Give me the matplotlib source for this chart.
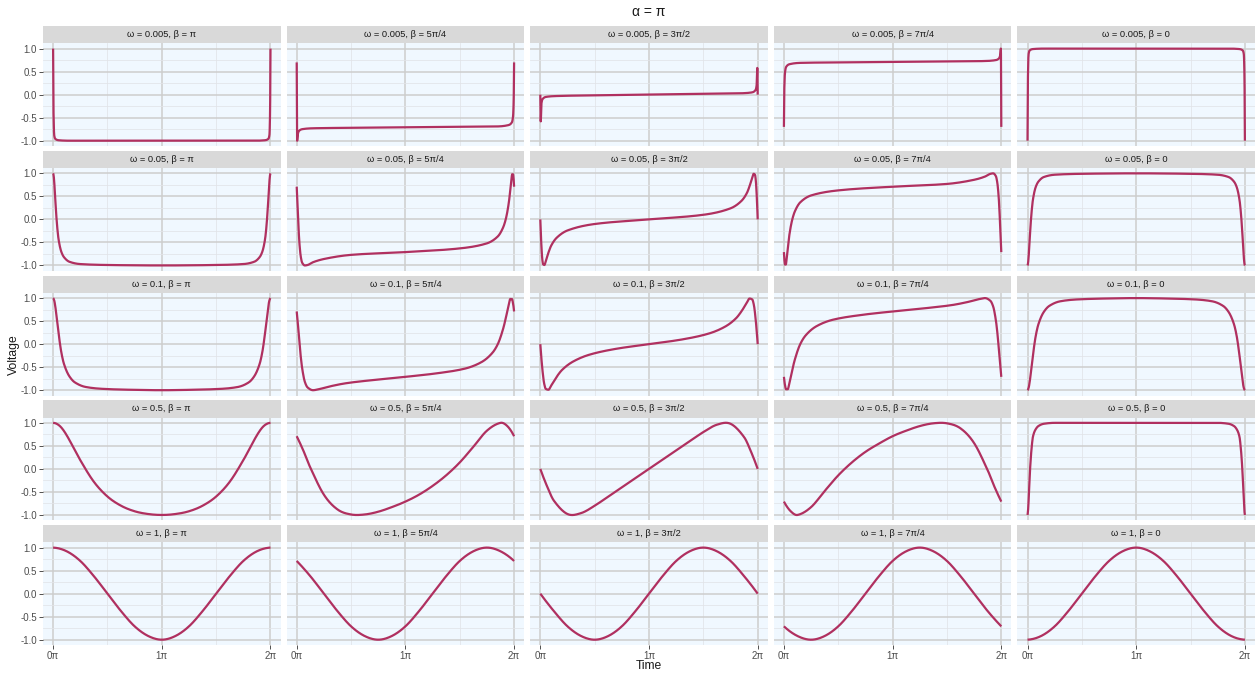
import numpy as np
import matplotlib
matplotlib.use("Agg")
import matplotlib.pyplot as plt

plt.rcParams["font.family"] = ["Liberation Sans", "DejaVu Sans"]

# ---------------------------------------------------------------------------
# Facet labels
# ---------------------------------------------------------------------------
omega_labels = ["0.005", "0.05", "0.1", "0.5", "1"]
beta_labels = ["π", "5π/4", "3π/2", "7π/4", "0"]

# ---------------------------------------------------------------------------
# Time samples (in multiples of π) and voltages for every facet
# ---------------------------------------------------------------------------
t_w0005 = [0, 0.004, 0.01, 0.02, 0.05, 0.15, 0.5, 1.0, 1.5, 1.85, 1.95, 1.98, 1.99, 1.996, 2.0]
v_w0005_pi = [1.00, -0.40, -0.88, -0.96, -0.99, -1.00, -1.00, -1.00, -1.00, -1.00, -0.99, -0.96, -0.88, -0.40, 1.00]
v_w0005_5pi4 = [0.70, -1.00, -0.86, -0.79, -0.75, -0.73, -0.72, -0.71, -0.70, -0.69, -0.66, -0.60, -0.48, -0.15, 0.70]
v_w0005_3pi2 = [0.00, -0.58, -0.20, -0.10, -0.05, -0.03, -0.015, 0.00, 0.015, 0.03, 0.05, 0.10, 0.20, 0.58, 0.00]
v_w0005_7pi4 = [-0.70, 0.15, 0.48, 0.60, 0.66, 0.69, 0.70, 0.71, 0.72, 0.73, 0.75, 0.79, 0.86, 1.00, -0.70]
v_w0005_0 = [-1.00, 0.40, 0.88, 0.96, 0.99, 1.00, 1.00, 1.00, 1.00, 1.00, 0.99, 0.96, 0.88, 0.40, -1.00]

t_w005 = [0, 0.005, 0.01, 0.0175, 0.025, 0.0375, 0.05, 0.075, 0.1, 0.15, 0.25, 0.5, 1.0,
          1.5, 1.75, 1.85, 1.9, 1.925, 1.95, 1.9625, 1.975, 1.9825, 1.99, 1.995, 2.0]
v_w005_pi = [1.00, 0.95, 0.82, 0.54, 0.24, -0.16, -0.43, -0.70, -0.82, -0.92, -0.97, -0.99, -1.00,
             -0.99, -0.97, -0.92, -0.82, -0.70, -0.43, -0.16, 0.24, 0.54, 0.82, 0.95, 1.00]
v_w005_5pi4 = [0.71, 0.46, 0.18, -0.22, -0.52, -0.81, -0.94, -1.00, -0.99, -0.93, -0.86, -0.77, -0.71,
               -0.63, -0.52, -0.37, -0.17, 0.02, 0.34, 0.58, 0.86, 0.98, 0.98, 0.89, 0.71]
v_w005_3pi2 = [0.00, -0.31, -0.57, -0.85, -0.97, -0.99, -0.91, -0.72, -0.57, -0.40, -0.24, -0.10, 0.00,
               0.10, 0.24, 0.40, 0.57, 0.72, 0.91, 0.99, 0.97, 0.85, 0.57, 0.31, 0.00]
v_w005_7pi4 = [-0.71, -0.89, -0.98, -0.98, -0.86, -0.58, -0.34, -0.02, 0.17, 0.37, 0.52, 0.63, 0.71,
               0.77, 0.86, 0.93, 0.99, 1.00, 0.94, 0.81, 0.52, 0.22, -0.18, -0.46, -0.71]
v_w005_0 = [-1.00, -0.95, -0.82, -0.54, -0.24, 0.16, 0.43, 0.70, 0.82, 0.92, 0.97, 0.99, 1.00,
            0.99, 0.97, 0.92, 0.82, 0.70, 0.43, 0.16, -0.24, -0.54, -0.82, -0.95, -1.00]

t_w01 = [0, 0.01, 0.02, 0.035, 0.05, 0.075, 0.1, 0.15, 0.2, 0.3, 0.45, 0.7, 1.0,
         1.3, 1.55, 1.7, 1.8, 1.85, 1.9, 1.925, 1.95, 1.965, 1.98, 1.99, 2.0]
v_w01_pi = [1.00, 0.95, 0.82, 0.54, 0.24, -0.17, -0.43, -0.70, -0.83, -0.93, -0.97, -0.99, -1.00,
            -0.99, -0.97, -0.93, -0.83, -0.70, -0.43, -0.17, 0.24, 0.54, 0.82, 0.95, 1.00]
v_w01_5pi4 = [0.71, 0.46, 0.18, -0.22, -0.52, -0.82, -0.94, -1.00, -0.98, -0.92, -0.85, -0.78, -0.71,
              -0.63, -0.53, -0.39, -0.19, 0.00, 0.34, 0.58, 0.85, 0.98, 0.98, 0.89, 0.71]
v_w01_3pi2 = [0.00, -0.31, -0.57, -0.85, -0.97, -0.99, -0.90, -0.71, -0.56, -0.38, -0.23, -0.10, 0.00,
              0.10, 0.23, 0.38, 0.56, 0.71, 0.90, 0.99, 0.97, 0.85, 0.57, 0.31, 0.00]
v_w01_7pi4 = [-0.71, -0.89, -0.98, -0.98, -0.85, -0.58, -0.34, 0.00, 0.19, 0.39, 0.53, 0.63, 0.71,
              0.78, 0.85, 0.92, 0.98, 1.00, 0.94, 0.82, 0.52, 0.22, -0.18, -0.46, -0.71]
v_w01_0 = [-1.00, -0.95, -0.82, -0.54, -0.24, 0.17, 0.43, 0.70, 0.83, 0.93, 0.97, 0.99, 1.00,
           0.99, 0.97, 0.93, 0.83, 0.70, 0.43, 0.17, -0.24, -0.54, -0.82, -0.95, -1.00]

t_w05 = [0, 0.0625, 0.125, 0.25, 0.375, 0.5, 0.625, 0.75, 0.875, 1.0,
         1.125, 1.25, 1.375, 1.5, 1.625, 1.75, 1.875, 1.9375, 2.0]
v_w05_pi = [1.00, 0.93, 0.73, 0.19, -0.28, -0.60, -0.80, -0.92, -0.98, -1.00,
            -0.98, -0.92, -0.80, -0.60, -0.28, 0.19, 0.73, 0.93, 1.00]
v_w05_5pi4 = [0.71, 0.39, 0.03, -0.56, -0.88, -0.99, -0.99, -0.93, -0.83, -0.71,
              -0.56, -0.37, -0.14, 0.14, 0.48, 0.83, 1.00, 0.93, 0.71]
v_w05_3pi2 = [0.00, -0.38, -0.69, -0.98, -0.96, -0.80, -0.60, -0.40, -0.20, 0.00,
              0.20, 0.40, 0.60, 0.80, 0.96, 0.98, 0.69, 0.38, 0.00]
v_w05_7pi4 = [-0.71, -0.92, -1.00, -0.83, -0.48, -0.14, 0.14, 0.37, 0.55, 0.71,
              0.83, 0.93, 0.99, 0.99, 0.88, 0.56, -0.03, -0.39, -0.71]
t_w05_0 = t_w005
v_w05_0 = [-1.00, -0.90, -0.70, -0.30, 0.05, 0.45, 0.70, 0.86, 0.93, 0.98, 1.00, 1.00, 1.00,
           1.00, 1.00, 0.98, 0.93, 0.86, 0.70, 0.45, 0.05, -0.30, -0.70, -0.90, -1.00]

t_w1 = [0, 0.125, 0.25, 0.375, 0.5, 0.625, 0.75, 0.875, 1.0,
        1.125, 1.25, 1.375, 1.5, 1.625, 1.75, 1.875, 2.0]
v_w1_pi = [1.00, 0.92, 0.71, 0.38, 0.00, -0.38, -0.71, -0.92, -1.00,
           -0.92, -0.71, -0.38, 0.00, 0.38, 0.71, 0.92, 1.00]
v_w1_5pi4 = [0.71, 0.38, 0.00, -0.38, -0.71, -0.92, -1.00, -0.92, -0.71,
             -0.38, 0.00, 0.38, 0.71, 0.92, 1.00, 0.92, 0.71]
v_w1_3pi2 = [0.00, -0.38, -0.71, -0.92, -1.00, -0.92, -0.71, -0.38, 0.00,
             0.38, 0.71, 0.92, 1.00, 0.92, 0.71, 0.38, 0.00]
v_w1_7pi4 = [-0.71, -0.92, -1.00, -0.92, -0.71, -0.38, 0.00, 0.38, 0.71,
             0.92, 1.00, 0.92, 0.71, 0.38, 0.00, -0.38, -0.71]
v_w1_0 = [-1.00, -0.92, -0.71, -0.38, 0.00, 0.38, 0.71, 0.92, 1.00,
          0.92, 0.71, 0.38, 0.00, -0.38, -0.71, -0.92, -1.00]

series = [
    [(t_w0005, v_w0005_pi), (t_w0005, v_w0005_5pi4), (t_w0005, v_w0005_3pi2), (t_w0005, v_w0005_7pi4), (t_w0005, v_w0005_0)],
    [(t_w005, v_w005_pi), (t_w005, v_w005_5pi4), (t_w005, v_w005_3pi2), (t_w005, v_w005_7pi4), (t_w005, v_w005_0)],
    [(t_w01, v_w01_pi), (t_w01, v_w01_5pi4), (t_w01, v_w01_3pi2), (t_w01, v_w01_7pi4), (t_w01, v_w01_0)],
    [(t_w05, v_w05_pi), (t_w05, v_w05_5pi4), (t_w05, v_w05_3pi2), (t_w05, v_w05_7pi4), (t_w05_0, v_w05_0)],
    [(t_w1, v_w1_pi), (t_w1, v_w1_5pi4), (t_w1, v_w1_3pi2), (t_w1, v_w1_7pi4), (t_w1, v_w1_0)],
]
# rows of slowly varying traces get an ordinary cardinal spline,
# steep ones a shape-preserving one
gentle = [[False] * 5, [False] * 5, [False] * 5, [True, True, True, True, False], [True] * 5]


def hermite_curve(x, y, preserve_shape=True, per_seg=24):
    """Cubic Hermite trace through the samples."""
    x = np.asarray(x, float)
    y = np.asarray(y, float)
    h = np.diff(x)
    d = np.diff(y) / h
    m = np.zeros_like(y)
    for k in range(1, len(x) - 1):
        if preserve_shape:
            if d[k - 1] * d[k] > 0:
                w1 = 2 * h[k] + h[k - 1]
                w2 = h[k] + 2 * h[k - 1]
                m[k] = (w1 + w2) / (w1 / d[k - 1] + w2 / d[k])
        else:
            m[k] = (y[k + 1] - y[k - 1]) / (x[k + 1] - x[k - 1])

    def edge(h0, h1, d0, d1):
        s = ((2 * h0 + h1) * d0 - h0 * d1) / (h0 + h1)
        if not preserve_shape:
            return s
        if np.sign(s) != np.sign(d0):
            return 0.0
        if np.sign(d0) != np.sign(d1) and abs(s) > abs(3 * d0):
            return 3 * d0
        return s

    m[0] = edge(h[0], h[1], d[0], d[1])
    m[-1] = edge(h[-1], h[-2], d[-1], d[-2])
    xs, ys = [], []
    for k in range(len(h)):
        s = np.linspace(0, 1, per_seg, endpoint=(k == len(h) - 1))
        h00 = 2 * s**3 - 3 * s**2 + 1
        h10 = s**3 - 2 * s**2 + s
        h01 = -2 * s**3 + 3 * s**2
        h11 = s**3 - s**2
        xs.append(x[k] + s * h[k])
        ys.append(h00 * y[k] + h10 * h[k] * m[k] + h01 * y[k + 1] + h11 * h[k] * m[k + 1])
    return np.concatenate(xs), np.concatenate(ys)


# ---------------------------------------------------------------------------
# Figure and facet grid geometry (pixels)
# ---------------------------------------------------------------------------
W, H, DPI = 1257, 675, 100
fig = plt.figure(figsize=(W / DPI, H / DPI), dpi=DPI)
fig.patch.set_facecolor("white")

left0, col_w, gap_x = 43.0, 237.6, 6.0
top0, strip_h, panel_h, row_pitch = 26.0, 17.3, 102.7, 124.75

line_color = "#B03060"
tick_txt = "#4d4d4d"

for r in range(5):
    for c in range(5):
        x0 = left0 + c * (col_w + gap_x)
        st = top0 + r * row_pitch
        pt = st + strip_h

        sax = fig.add_axes([x0 / W, 1 - (st + strip_h) / H, col_w / W, strip_h / H])
        sax.set_facecolor("#d9d9d9")
        sax.set_xticks([])
        sax.set_yticks([])
        for sp in sax.spines.values():
            sp.set_visible(False)
        sax.text(0.5, 0.5, f"ω = {omega_labels[r]}, β = {beta_labels[c]}",
                 ha="center", va="center", fontsize=6.7, color="#1a1a1a",
                 transform=sax.transAxes)

        ax = fig.add_axes([x0 / W, 1 - (pt + panel_h) / H, col_w / W, panel_h / H])
        ax.set_facecolor("#f0f8ff")
        for sp in ax.spines.values():
            sp.set_visible(False)
        ax.set_xlim(-0.093, 2.093)
        ax.set_ylim(-1.115, 1.115)
        ax.set_xticks([0, 1, 2])
        ax.set_xticks([0.5, 1.5], minor=True)
        ax.set_yticks([-1, -0.5, 0, 0.5, 1])
        ax.set_yticks([-0.75, -0.25, 0.25, 0.75], minor=True)
        ax.grid(which="major", color="#cdcdcd", linewidth=1.1)
        ax.grid(which="minor", color="#e1e4e8", linewidth=0.55)
        ax.set_axisbelow(True)
        ax.tick_params(which="minor", length=0)

        if c == 0:
            ax.set_yticklabels(["-1.0", "-0.5", "0.0", "0.5", "1.0"])
            ax.tick_params(axis="y", length=2.75, width=0.6, color="#333333",
                           labelcolor=tick_txt, labelsize=7.0, pad=1.5)
        else:
            ax.tick_params(axis="y", length=0, labelleft=False)
        if r == 4:
            ax.set_xticklabels(["0π", "1π", "2π"])
            ax.tick_params(axis="x", length=2.75, width=0.6, color="#333333",
                           labelcolor=tick_txt, labelsize=7.0, pad=1.5)
        else:
            ax.tick_params(axis="x", length=0, labelbottom=False)

        tt, vv = series[r][c]
        xs, ys = hermite_curve(tt, vv, preserve_shape=not gentle[r][c])
        ax.plot(xs, ys, color=line_color, linewidth=1.6, solid_capstyle="butt",
                solid_joinstyle="round")

fig.text(649 / W, 1 - 12 / H, "α = π", ha="center", va="center", fontsize=10, color="#1a1a1a")
fig.text(649 / W, 1 - 666 / H, "Time", ha="center", va="center", fontsize=8.7, color="#1a1a1a")
fig.text(14 / W, 1 - 355 / H, "Voltage", ha="center", va="center", rotation=90,
         fontsize=8.7, color="#1a1a1a")

fig.savefig("out.png", dpi=DPI)
